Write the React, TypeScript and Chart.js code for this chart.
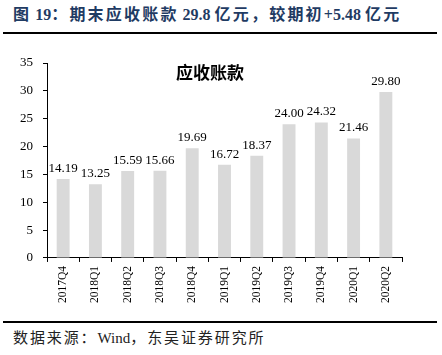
import React, { useEffect, useRef } from "react";
import { Chart, registerables } from "chart.js";

Chart.register(...registerables);

const categories = ["2017Q4", "2018Q1", "2018Q2", "2018Q3", "2018Q4", "2019Q1", "2019Q2", "2019Q3", "2019Q4", "2020Q1", "2020Q2"];
const receivables = [14.19, 13.25, 15.59, 15.66, 19.69, 16.72, 18.37, 24.0, 24.32, 21.46, 29.8];
const yTicks = [0, 5, 10, 15, 20, 25, 30, 35];

const figTitle = "图 19：期末应收账款 29.8 亿元，较期初+5.48 亿元";
const chartTitle = "应收账款";
const source = "数据来源：Wind，东吴证券研究所";

const serif = "'Liberation Serif', 'Times New Roman', serif";

function spaced(text: string, spacing: string) {
  const runs = text.match(/[\x00-\x7F]+|[^\x00-\x7F]+/g) || [];
  return runs.map((r, i) => (
    <span key={i} style={{ letterSpacing: /[\x00-\x7F]/.test(r[0]) ? 0 : spacing }}>
      {r}
    </span>
  ));
}

const labelPlugin = {
  id: "barLabels",
  afterDatasetsDraw(chart: any) {
    const ctx = chart.ctx;
    const meta = chart.getDatasetMeta(0);
    ctx.save();
    ctx.font = `13px ${serif}`;
    ctx.fillStyle = "#000";
    ctx.textAlign = "center";
    ctx.textBaseline = "bottom";
    meta.data.forEach((bar: any, i: number) => {
      ctx.fillText(receivables[i].toFixed(2), bar.x, bar.y - 4);
    });
    ctx.restore();
  },
};

export default function App() {
  const ref = useRef<HTMLCanvasElement | null>(null);
  useEffect(() => {
    if (!ref.current) return;
    const chart = new Chart(ref.current, {
      type: "bar",
      data: {
        labels: categories,
        datasets: [
          {
            data: receivables,
            backgroundColor: "#D9D9D9",
            borderWidth: 0,
            barPercentage: 0.4,
            categoryPercentage: 1,
          },
        ],
      },
      options: {
        animation: false,
        responsive: false,
        layout: { padding: { top: 23, right: 40, bottom: 0, left: 10 } },
        plugins: { legend: { display: false }, tooltip: { enabled: false }, title: { display: false } },
        scales: {
          x: {
            grid: { display: true, drawOnChartArea: false, tickLength: 4, color: "#000" },
            border: { display: true, color: "#000", width: 1 },
            ticks: {
              color: "#000",
              font: { family: serif, size: 11.5 },
              minRotation: 90,
              maxRotation: 90,
              padding: 4,
              autoSkip: false,
            },
          },
          y: {
            min: 0,
            max: 35,
            afterBuildTicks: (axis: any) => {
              axis.ticks = yTicks.map((v) => ({ value: v }));
            },
            grid: { display: true, drawOnChartArea: false, tickLength: 4, color: "#000" },
            border: { display: true, color: "#000", width: 1 },
            ticks: {
              color: "#000",
              font: { family: serif, size: 13 },
              padding: 10,
            },
          },
        },
      },
      plugins: [labelPlugin],
    });
    return () => chart.destroy();
  }, []);

  return (
    <div style={{ position: "fixed", left: 0, top: 0, width: 442, height: 355, background: "#fff", overflow: "hidden" }}>
      <div
        style={{
          position: "absolute",
          left: 13,
          top: 5,
          fontFamily: "'Liberation Serif', 'Noto Sans CJK SC', serif",
          fontWeight: "bold",
          fontSize: 16,
          color: "#1F3B63",
          whiteSpace: "nowrap",
          lineHeight: "20px",
        }}
      >
        {spaced(figTitle, "2.2px")}
      </div>
      <div style={{ position: "absolute", left: 3, top: 32, width: 434, height: 2, background: "#000" }} />
      <canvas ref={ref} width={442} height={267} style={{ position: "absolute", left: 0, top: 40, width: 442, height: 267 }} />
      <div
        style={{
          position: "absolute",
          left: 176,
          top: 61,
          fontFamily: "'Noto Sans CJK SC', sans-serif",
          fontWeight: "bold",
          fontSize: 17,
          color: "#000",
          whiteSpace: "nowrap",
          lineHeight: "22px",
        }}
      >
        {chartTitle}
      </div>
      <div style={{ position: "absolute", left: 3, top: 321, width: 434, height: 2, background: "#000" }} />
      <div
        style={{
          position: "absolute",
          left: 13,
          top: 328,
          fontFamily: "'Liberation Serif', 'Noto Sans CJK SC', serif",
          fontSize: 15,
          color: "#222",
          whiteSpace: "nowrap",
          lineHeight: "20px",
        }}
      >
        {spaced(source, "1.9px")}
      </div>
    </div>
  );
}
